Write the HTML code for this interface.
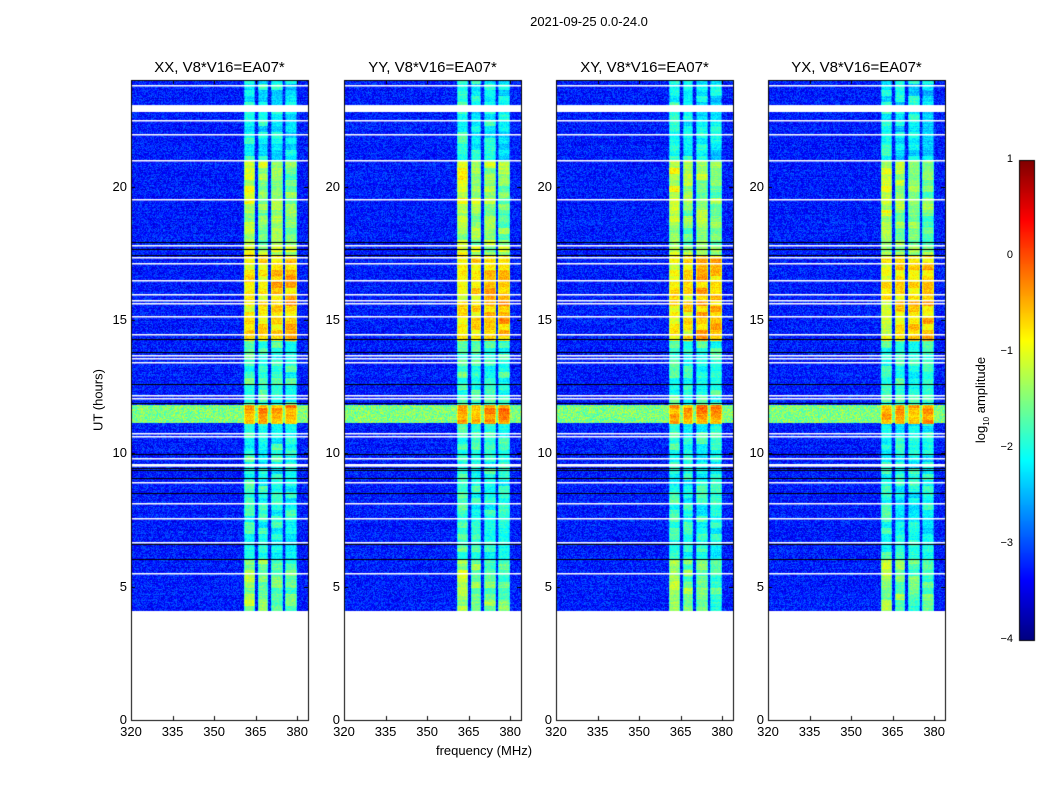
<!DOCTYPE html>
<html><head><meta charset="utf-8">
<style>
body{margin:0;background:#fff;}
#root{position:relative;width:1050px;height:800px;background:#fff;font-family:"Liberation Sans",sans-serif;color:#000;overflow:hidden;}
.t{position:absolute;white-space:nowrap;}
canvas{position:absolute;}
</style></head>
<body>
<div id="root">
<div class="t" style="left:489px;top:14px;width:200px;text-align:center;font-size:13px;">2021-09-25 0.0-24.0</div>
<div class="t" style="left:98px;top:400px;font-size:13px;transform:translate(-50%,-50%) rotate(-90deg);">UT (hours)</div>
<div class="t" style="left:384px;top:743px;width:200px;text-align:center;font-size:13px;">frequency (MHz)</div>
<div class="t" style="left:982px;top:400px;font-size:13px;transform:translate(-50%,-50%) rotate(-90deg);">log<sub style="font-size:8px">10</sub> amplitude</div>
<canvas id="cv" width="1050" height="800" style="left:0;top:0"></canvas>
</div>
<script>
// ---- data ----
const panelTitles=["XX, V8*V16=EA07*","YY, V8*V16=EA07*","XY, V8*V16=EA07*","YX, V8*V16=EA07*"];
const panelLefts=[131,344,556,768];
const xTicks=[320,335,350,365,380];
const yTicks=[0,5,10,15,20];
const cbTicks=[1,0,-1,-2,-3,-4];
const dataStartHour=4.1;
const channelLo=[360.8,365.8,370.5,375.6];
const channelHi=[364.8,369.5,374.9,379.9];
// time segments: [startHour, endHour, level ch1, ch2, ch3, ch4]
const segStart=[4.1,6.0,11.1,11.8,14.2,17.4,17.8,19.0,21.0];
const segEnd=[6.0,11.1,11.8,14.2,17.4,17.8,19.0,21.0,24.0];
const segLevels=[[-1.3,-1.5,-1.6,-1.7],[-1.9,-2.0,-2.0,-2.0],[-0.4,-0.5,-0.4,-0.4],[-1.8,-1.9,-1.9,-1.9],[-0.9,-0.8,-0.6,-0.6],[-1.1,-1.3,-1.3,-1.3],[-1.3,-1.5,-1.4,-1.6],[-1.1,-1.3,-1.4,-1.5],[-2.0,-2.1,-2.1,-2.2]];
const panelGain=[0,0.05,0,-0.05];
const rfiStart=11.14, rfiEnd=11.81, rfiLevel=-1.5;
const backgroundLevel=-3.25;
const whiteLines=[23.8,22.5,21.97,21.0,19.54,17.8,17.36,17.13,16.5,15.97,15.75,15.64,15.15,14.47,13.69,13.57,13.43,12.19,12.07,10.76,10.65,9.82,8.93,8.14,7.57,6.67,5.51];
const whiteBands=[[22.8,23.06],[9.5,9.6]];
const blackLines=[17.92,17.65,17.44,14.3,13.8,12.6,11.9,9.97,9.45,9.38,9.08,8.52,6.6,6.04];
// ---- axes ----
const Y0=720,Y1=80,W=177,F0=320,FPX=2.77;
const yPix=h=>Y0-(h/24)*(Y0-Y1);
const xPix=(i,f)=>panelLefts[i]+(f-F0)*FPX;
function jet(v){let t=(v+4)/5;t=Math.max(0,Math.min(1,t));
 const r=Math.min(4*t-1.5,-4*t+4.5),g=Math.min(4*t-0.5,-4*t+3.5),b=Math.min(4*t+0.5,-4*t+2.5);
 const c=x=>Math.round(255*Math.max(0,Math.min(1,x)));return [c(r),c(g),c(b)];}
function hash(a,b){let h=(a*374761393+b*668265263)|0;h=(h^(h>>>13))*1274126177|0;return ((h^(h>>>16))>>>0)/4294967296;}
const cv=document.getElementById('cv'),ctx=cv.getContext('2d');
const img=ctx.createImageData(1050,800);
for(let p=0;p<4;p++){
 const yTop=Math.round(yPix(24)),yBot=Math.round(yPix(dataStartHour));
 for(let y=yTop;y<yBot;y++){
  const hr=(Y0-y-0.5)/(Y0-Y1)*24;
  let si=segStart.findIndex((s,k)=>hr>=s&&hr<segEnd[k]); if(si<0)si=segLevels.length-1;
  const rowN=hash(y,p*7+1)*0.3-0.15;
  for(let x=0;x<W;x++){
   const X=panelLefts[p]+x;const f=F0+(x+0.5)/FPX;
   let v=backgroundLevel+rowN*0.5+(hash(X,y)-0.5)*0.7;
   if(hr>=rfiStart&&hr<rfiEnd) v=Math.max(v,rfiLevel+(hash(X+3,y)-0.5)*0.8);
   for(let c=0;c<4;c++){ if(f>=channelLo[c]&&f<channelHi[c]){
     let lv=segLevels[si][c]+panelGain[p];
     if(hr>=rfiStart&&hr<rfiEnd) lv=-0.4;
     const blk=(hash(Math.floor(y/6),c+p*4+50)-0.5)*0.6;
     const edge=(f-channelLo[c]<0.5||channelHi[c]-f<0.5)?-0.4:0;
     v=lv+blk+edge+(hash(X,y+9)-0.5)*0.4+rowN*0.6; } }
   const col=jet(v);const k=(y*1050+X)*4;
   img.data[k]=col[0];img.data[k+1]=col[1];img.data[k+2]=col[2];img.data[k+3]=255;
  }
 }
}
ctx.putImageData(img,0,0);
// gap lines
for(let p=0;p<4;p++){
 const L=panelLefts[p];
 ctx.fillStyle='#fff';
 whiteLines.forEach(h=>ctx.fillRect(L,Math.round(yPix(h)),W,1.5));
 whiteBands.forEach(b=>ctx.fillRect(L,yPix(b[1]),W,yPix(b[0])-yPix(b[1])));
 ctx.fillStyle='#000';
 blackLines.forEach(h=>ctx.fillRect(L,Math.round(yPix(h)),W,1));
 ctx.strokeStyle='#000';ctx.lineWidth=1;ctx.strokeRect(L+0.5,Y1+0.5,W,Y0-Y1);
 ctx.beginPath();
 xTicks.forEach(f=>{const x=Math.round(xPix(p,f))+0.5;ctx.moveTo(x,Y0);ctx.lineTo(x,Y0-4);ctx.moveTo(x,Y1);ctx.lineTo(x,Y1+4);});
 yTicks.forEach(h=>{const y=Math.round(yPix(h))+0.5;ctx.moveTo(L,y);ctx.lineTo(L+4,y);ctx.moveTo(L+W,y);ctx.lineTo(L+W-4,y);});
 ctx.stroke();
}
// colorbar
for(let y=160;y<640;y++){const v=1-(y-160)/480*5;const c=jet(v);ctx.fillStyle=`rgb(${c})`;ctx.fillRect(1019,y,15,1);}
ctx.strokeStyle='#000';ctx.strokeRect(1019.5,160.5,15,480);
const root=document.getElementById('root');
function addText(txt,l,t,st,name){const d=document.createElement('div');d.className='t';d.textContent=txt;d.style.cssText+=`left:${l}px;top:${t}px;`+st;
 
 
 root.appendChild(d);return d;}
for(let p=0;p<4;p++){
 addText(panelTitles[p],panelLefts[p],59,'width:177px;text-align:center;font-size:15px;','panel-title');
 xTicks.forEach(f=>addText(String(f),xPix(p,f)-20,724,'width:40px;text-align:center;font-size:13px;','x-tick-label'));
 yTicks.forEach(h=>addText(String(h),panelLefts[p]-36,yPix(h)-8,'width:32px;text-align:right;font-size:13px;','y-tick-label'));
}
cbTicks.forEach(v=>addText(v<0?'\u2212'+(-v):String(v),975,160+(1-v)/5*480-7,'width:38px;text-align:right;font-size:11px;','colorbar-tick-label'));
</script>
</body></html>
